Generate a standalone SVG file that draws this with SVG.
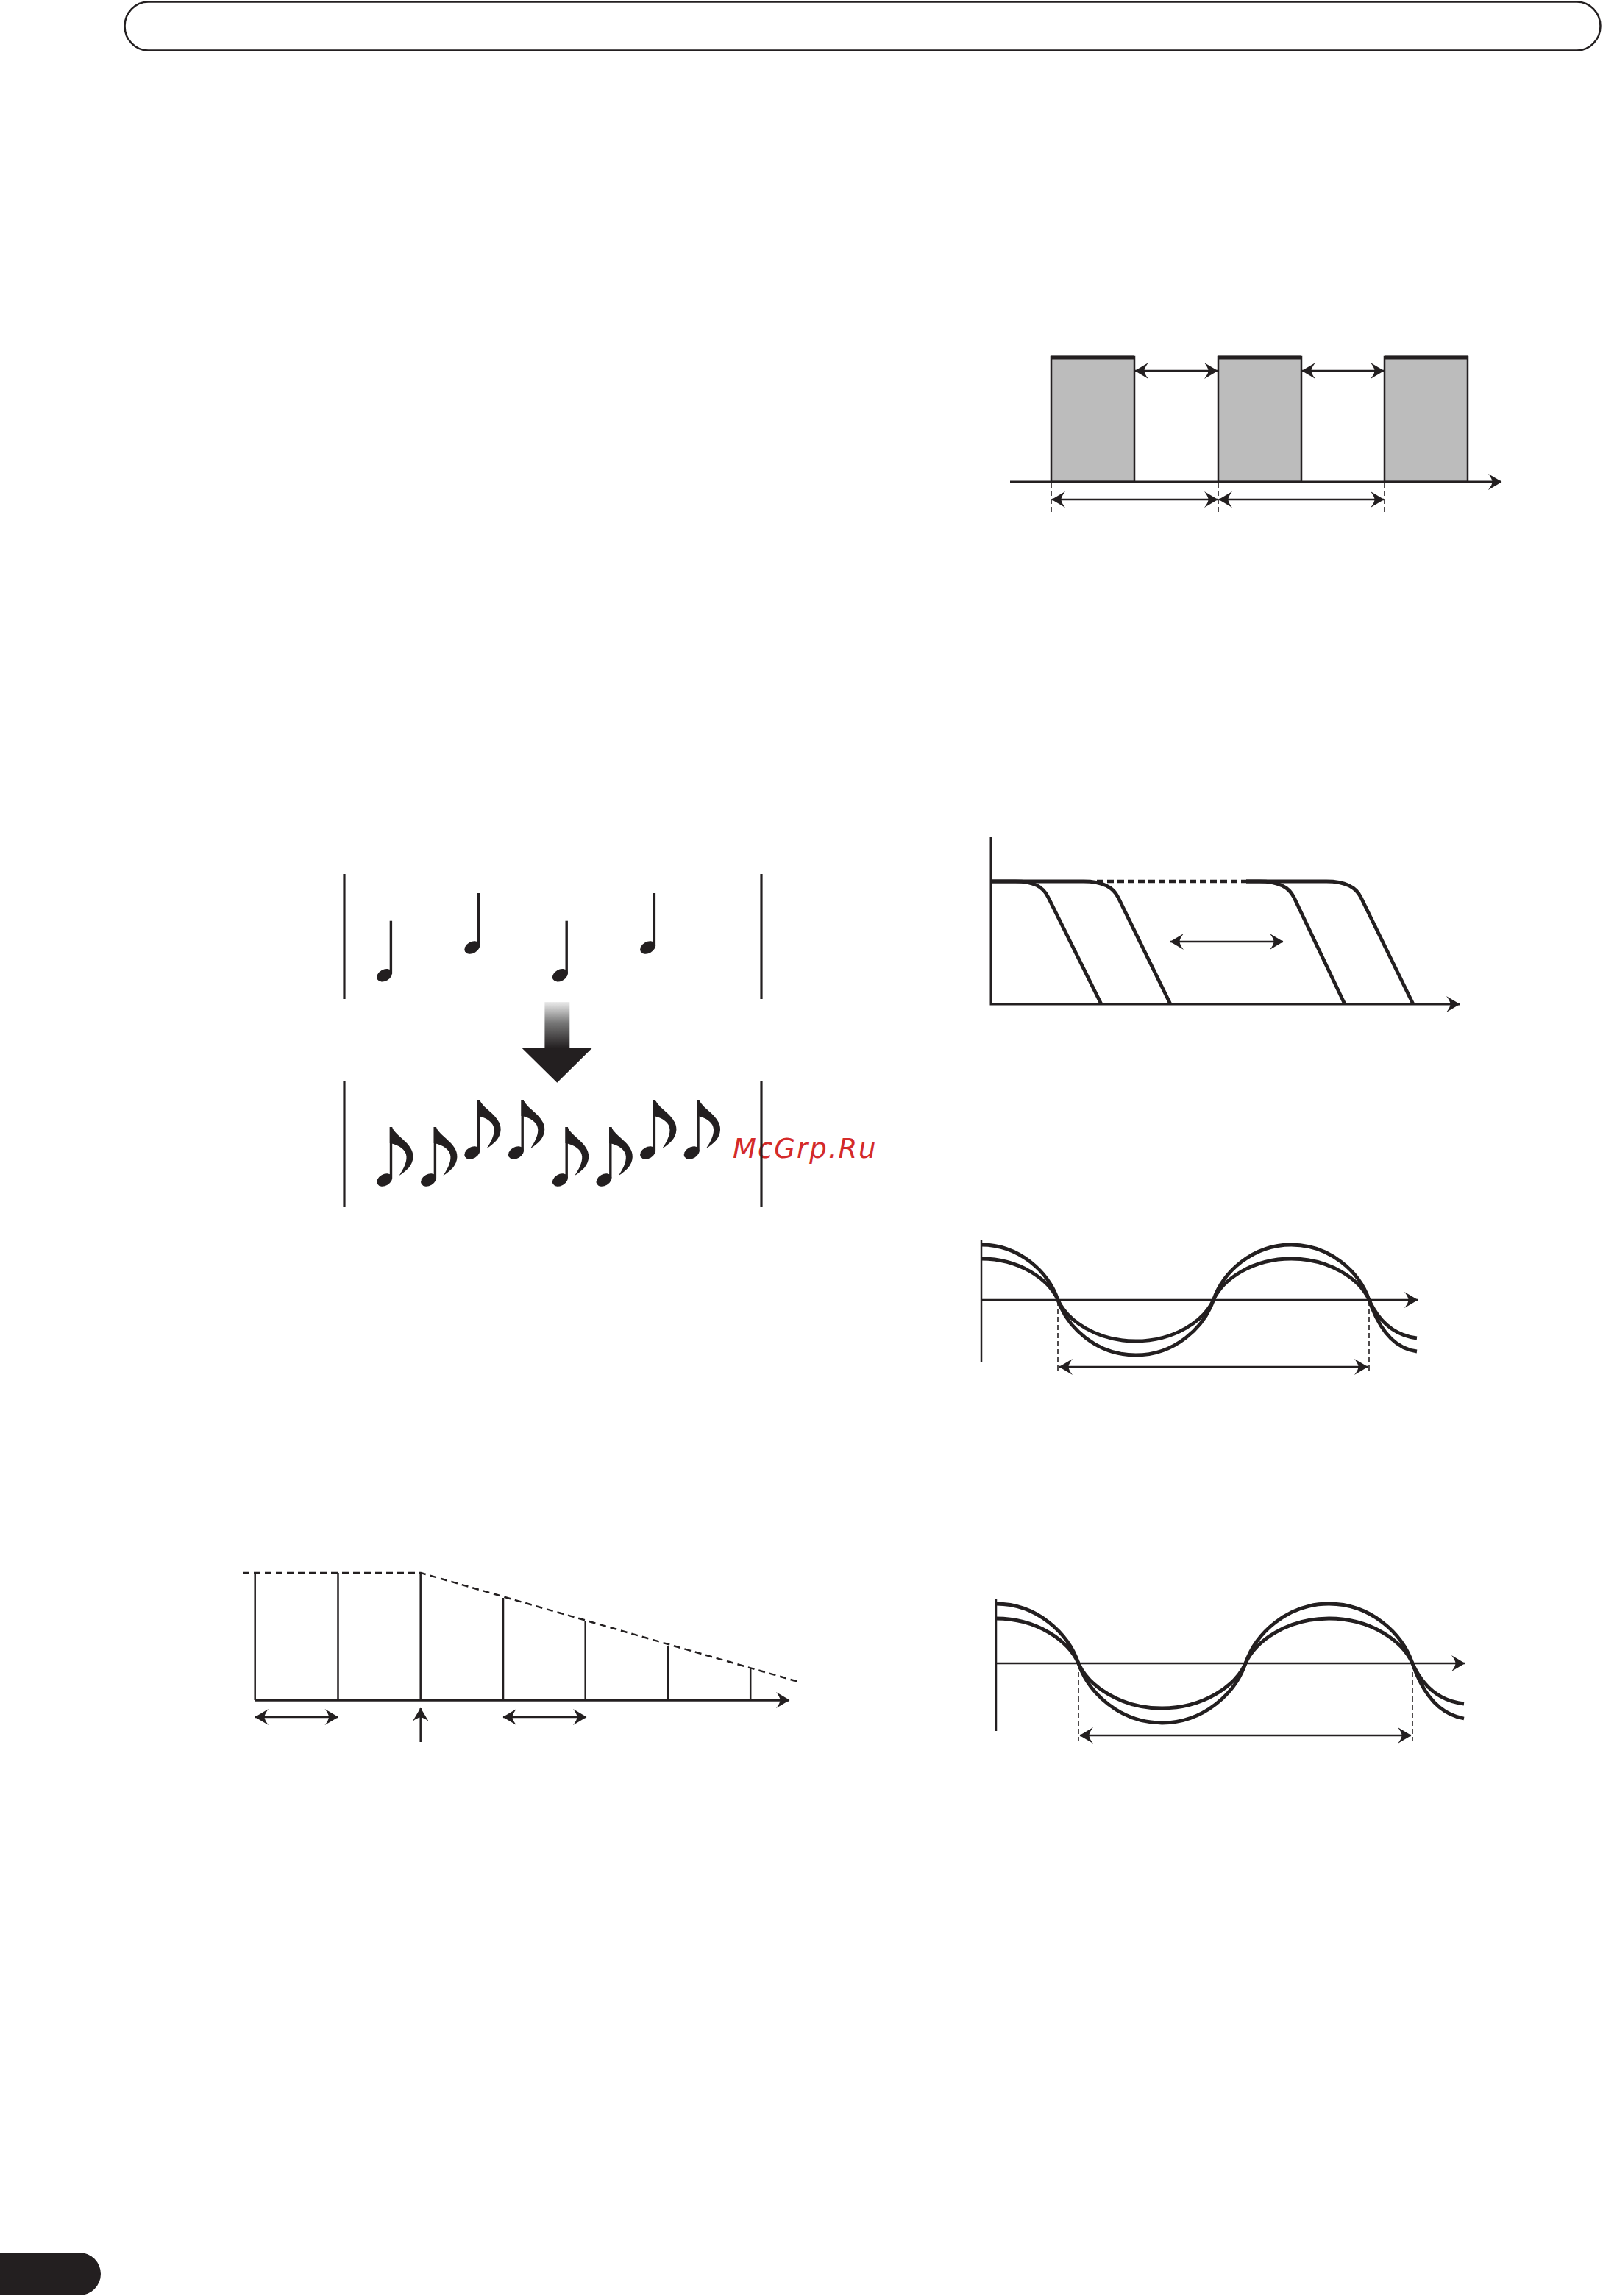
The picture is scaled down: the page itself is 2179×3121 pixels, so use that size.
<svg xmlns="http://www.w3.org/2000/svg" xmlns:xlink="http://www.w3.org/1999/xlink" width="2179" height="3121" viewBox="0 0 2179 3121">
<style>
.ln{fill:none;stroke:#231f20;stroke-width:2.5}
.ax{fill:none;stroke:#231f20;stroke-width:3}
.cv{fill:none;stroke:#231f20;stroke-width:4.8;stroke-linejoin:round}
.dsh{fill:none;stroke:#231f20;stroke-width:1.6;stroke-dasharray:7 4}
.dbl{fill:none;stroke:#231f20;stroke-width:2.6;marker-start:url(#ah);marker-end:url(#ah)}
.one{marker-end:url(#ah)}
.ink{fill:#231f20}
.bar{stroke:#231f20;stroke-width:3.2}
</style>
<defs>
<marker id="ah" markerUnits="userSpaceOnUse" viewBox="-20 -12 22 24" refX="0" refY="0" markerWidth="22" markerHeight="24" orient="auto-start-reverse">
<path d="M0.5,0 L-18,-11 Q-12.5,-4 -12.5,0 Q-12.5,4 -18,11 Z" fill="#231f20"/>
</marker>
<linearGradient id="grad" gradientUnits="userSpaceOnUse" x1="0" y1="1362" x2="0" y2="1425">
<stop offset="0" stop-color="#ececec"/>
<stop offset="0.45" stop-color="#777"/>
<stop offset="1" stop-color="#231f20"/>
</linearGradient>
<g id="quarter">
<rect class="ink" x="-1.7" y="0" width="3.4" height="72"/>
<ellipse class="ink" cx="-8.8" cy="74" rx="11.2" ry="7.8" transform="rotate(-30 -8.8 74)"/>
</g>
<g id="eighth">
<rect class="ink" x="-1.7" y="0" width="3.4" height="69"/>
<ellipse class="ink" cx="-8.8" cy="72" rx="11.2" ry="7.8" transform="rotate(-30 -8.8 72)"/>
<path class="ink" d="M-1.7 0 H1.5 C5 12 31 22 30 41 C29.5 52 21 60 11 66 C17 57 21.5 48 21 40 C20.5 31 11 24 -1.7 22 Z"/>
</g>
</defs>

<g id="header">
<rect x="169.5" y="2.5" width="2006" height="66" rx="32" ry="33" fill="#fff" stroke="#231f20" stroke-width="2.5"/>
</g>
<g id="page-tab">
<path class="ink" d="M0 3062 H108 A29 29 0 0 1 108 3120 H0 Z"/>
</g>

<g id="pulse-diagram">
<rect x="1429" y="485" width="113" height="170" fill="#bcbcbc" stroke="#231f20" stroke-width="2.5"/>
<rect x="1656" y="485" width="113" height="170" fill="#bcbcbc" stroke="#231f20" stroke-width="2.5"/>
<rect x="1882" y="485" width="113" height="170" fill="#bcbcbc" stroke="#231f20" stroke-width="2.5"/>
<path d="M1429 486 H1542 M1656 486 H1769 M1882 486 H1995" stroke="#231f20" stroke-width="5"/>
<g id="pulse-connectors">
<path class="ax one" d="M1373 655 H2041"/>
<path class="dsh" d="M1429 656 V698 M1656 656 V698 M1882 656 V698"/>
<path class="dbl" d="M1543 504 H1655"/>
<path class="dbl" d="M1770 504 H1881"/>
<path class="dbl" d="M1430 679 H1655"/>
<path class="dbl" d="M1657 679 H1881"/>
</g>
</g>

<g id="decay-diagram">
<path class="ax one" d="M1347 1138 V1365 H1984"/>
<path class="cv" d="M1347 1198 H1380 C1405 1198 1418 1205 1425 1220 L1497 1365"/>
<path class="cv" d="M1347 1198 H1473 C1498 1198 1513 1205 1520 1220 L1591 1365"/>
<path fill="none" stroke="#231f20" stroke-width="4.5" stroke-dasharray="9 5" d="M1491 1198 H1694"/>
<path class="cv" d="M1694 1198 H1712 C1737 1198 1752 1205 1759 1220 L1828 1365"/>
<path class="cv" d="M1694 1198 H1803 C1828 1198 1843 1205 1850 1220 L1921 1365"/>
<path class="dbl" d="M1591 1280 H1744"/>
</g>

<g id="notes-diagram">
<text x="996" y="1574" font-family="DejaVu Sans, sans-serif" font-style="italic" font-size="37" letter-spacing="2" fill="#d42a2a">McGrp.Ru</text>
<line class="bar" x1="468" y1="1188" x2="468" y2="1358"/>
<line class="bar" x1="1035" y1="1188" x2="1035" y2="1358"/>
<use xlink:href="#quarter" x="531.4" y="1251.7"/>
<use xlink:href="#quarter" x="650.6" y="1214"/>
<use xlink:href="#quarter" x="770.2" y="1251.7"/>
<use xlink:href="#quarter" x="889.4" y="1214"/>
<path fill="url(#grad)" d="M740.4 1362 H774.3 V1425 H804.5 L757.3 1471.7 L709.8 1425 H740.4 Z"/>
<line class="bar" x1="468" y1="1470" x2="468" y2="1641"/>
<line class="bar" x1="1035" y1="1470" x2="1035" y2="1641"/>
<use xlink:href="#eighth" x="531.5" y="1532"/>
<use xlink:href="#eighth" x="591.4" y="1532"/>
<use xlink:href="#eighth" x="650.6" y="1495"/>
<use xlink:href="#eighth" x="710.2" y="1495"/>
<use xlink:href="#eighth" x="770.2" y="1532"/>
<use xlink:href="#eighth" x="829.8" y="1532"/>
<use xlink:href="#eighth" x="889.4" y="1495"/>
<use xlink:href="#eighth" x="949" y="1495"/>
</g>

<g id="wave-diagram-1">
<path class="ln" d="M1334 1685 V1852"/>
<path class="ln one" d="M1334 1767 H1927"/>
<path class="cv" d="M1334 1692 C1386 1692 1425.3 1729.5 1438 1767 C1450.7 1804.5 1490.75 1842 1543.75 1842 C1596.75 1842 1636.8 1804.5 1649.5 1767 C1662.2 1729.5 1702.25 1692 1755.25 1692 C1808.25 1692 1848.3 1729.5 1861 1767 C1873.7 1804.5 1894 1833 1926 1837"/>
<path class="cv" d="M1334 1711 C1386 1711 1425.3 1739 1438 1767 C1450.7 1795 1490.75 1823 1543.75 1823 C1596.75 1823 1636.8 1795 1649.5 1767 C1662.2 1739 1702.25 1711 1755.25 1711 C1808.25 1711 1848.3 1739 1861 1767 C1873.7 1795 1894 1815 1926 1819"/>
<path class="dsh" d="M1438 1768 V1864 M1861 1768 V1864"/>
<path class="dbl" d="M1440 1858 H1859"/>
</g>

<g id="wave-diagram-2">
<path class="ln" d="M1354 2173 V2353"/>
<path class="ln one" d="M1354 2261 H1991"/>
<path class="cv" d="M1354 2180 C1410 2180 1452.4 2220.5 1466 2261 C1479.6 2301.5 1522.75 2342 1579.5 2342 C1636.25 2342 1679.4 2301.5 1693 2261 C1706.6 2220.5 1749.75 2180 1806.5 2180 C1863.25 2180 1906.4 2220.5 1920 2261 C1933.6 2301.5 1956 2330 1990 2336"/>
<path class="cv" d="M1354 2200 C1410 2200 1452.4 2230.5 1466 2261 C1479.6 2291.5 1522.75 2322 1579.5 2322 C1636.25 2322 1679.4 2291.5 1693 2261 C1706.6 2230.5 1749.75 2200 1806.5 2200 C1863.25 2200 1906.4 2230.5 1920 2261 C1933.6 2291.5 1956 2312 1990 2316"/>
<path class="dsh" d="M1466 2262 V2367 M1920 2262 V2367"/>
<path class="dbl" d="M1468 2359 H1918"/>
</g>

<g id="step-diagram">
<path class="ln" d="M346.7 2138 V2311 M459.5 2138 V2311 M571.7 2138 V2311 M684 2172 V2311 M795.7 2204 V2311 M908 2237 V2311 M1020.2 2268 V2311"/>
<path fill="none" stroke="#231f20" stroke-width="2.5" stroke-dasharray="9 6" d="M330 2138 H572 L1085 2286"/>
<path fill="none" stroke="#231f20" stroke-width="3.5" class="one" d="M346.7 2311 H1073"/>
<path class="dbl" d="M347 2334 H459.5"/>
<path class="dbl" d="M684 2334 H797"/>
<path class="ln one" d="M571.7 2368 V2322"/>
</g>
</svg>
